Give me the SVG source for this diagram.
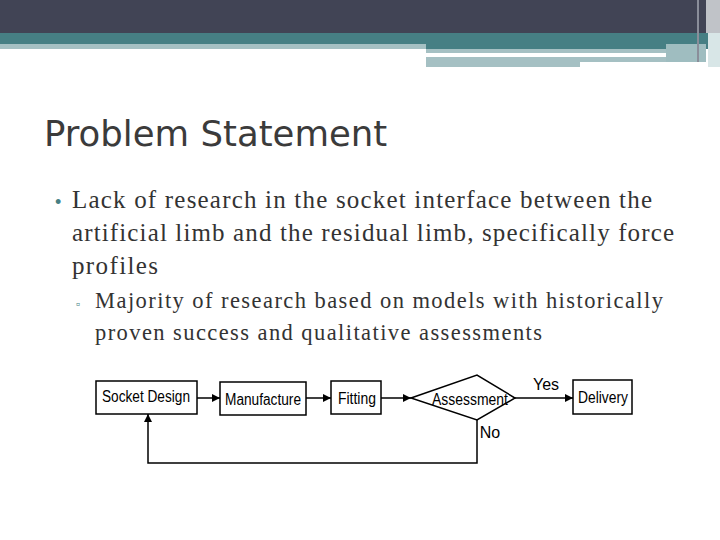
<svg xmlns="http://www.w3.org/2000/svg" width="720" height="540" viewBox="0 0 720 540">
<defs>
<style>
.b{fill:#fff;stroke:#000;stroke-width:1.5}
.t{font-family:"Liberation Sans Narrow","Liberation Sans",Arial,sans-serif;font-size:16px;fill:#000;text-anchor:middle}
.body{font-family:"Liberation Serif","Times New Roman",serif;fill:#333}
.c{fill:none;stroke:#000;stroke-width:1.5}
</style>
<marker id="a" viewBox="0 0 10 10" refX="10" refY="5" markerWidth="8" markerHeight="8" orient="auto" markerUnits="userSpaceOnUse"><path d="M0,0L10,5L0,10z" fill="#000"/></marker>
</defs>
<rect width="720" height="540" fill="#fff"/>
<rect x="0" y="0" width="720" height="33" fill="#414455"/>
<rect x="0" y="33" width="720" height="11" fill="#467f84"/>
<rect x="0" y="44" width="426" height="5" fill="#a5c0c3"/>
<rect x="426" y="44" width="294" height="5" fill="#467f84"/>
<rect x="426" y="49" width="240" height="4" fill="#a5c0c3"/>
<rect x="426" y="57" width="154" height="10" fill="#a5c0c3"/>
<rect x="580" y="57" width="126" height="5" fill="#a5c0c3"/>
<rect x="666" y="44" width="40" height="18" fill="#9fbdc0"/>
<rect x="697" y="0" width="2" height="62" fill="#8a8e9a"/>
<rect x="706" y="0" width="14" height="33" fill="#c0c3c8"/>
<rect x="708" y="33" width="12" height="34" fill="#d8e6e7"/>
<text x="44" y="146" font-family="'DejaVu Sans',sans-serif" font-size="35.5" fill="#3b3b3b">Problem Statement</text>
<text x="55" y="208" font-family="Liberation Sans,sans-serif" font-size="18" fill="#467f84">•</text>
<text class="body" font-size="25"><tspan x="72" y="208" textLength="580">Lack of research in the socket interface between the</tspan><tspan x="72" y="241" textLength="602">artificial limb and the residual limb, specifically force</tspan><tspan x="72" y="274" textLength="86">profiles</tspan></text>
<text x="76" y="308" font-family="Liberation Sans,sans-serif" font-size="12" fill="#467f84">▫</text>
<text class="body" font-size="22.5"><tspan x="95" y="308" textLength="568">Majority of research based on models with historically</tspan><tspan x="95" y="340" textLength="447">proven success and qualitative assessments</tspan></text>
<g id="connectors">
<line class="c" x1="197" y1="398" x2="220" y2="398" marker-end="url(#a)"/>
<line class="c" x1="306" y1="398" x2="331" y2="398" marker-end="url(#a)"/>
<line class="c" x1="381" y1="398" x2="411" y2="398" marker-end="url(#a)"/>
<line class="c" x1="515" y1="398" x2="573" y2="398" marker-end="url(#a)"/>
<polyline class="c" points="477,420 477,463 148,463 148,414" marker-end="url(#a)"/>
<text class="t" x="546" y="390">Yes</text>
<text class="t" x="490" y="438">No</text>
</g>
<g id="socket"><rect class="b" x="96" y="381" width="101" height="33"/><text class="t" x="146" y="402" textLength="88" lengthAdjust="spacingAndGlyphs">Socket Design</text></g>
<g id="manufacture"><rect class="b" x="220" y="382" width="86" height="33"/><text class="t" x="263" y="405" textLength="76" lengthAdjust="spacingAndGlyphs">Manufacture</text></g>
<g id="fitting"><rect class="b" x="331" y="381" width="50" height="33"/><text class="t" x="357" y="404" textLength="38" lengthAdjust="spacingAndGlyphs">Fitting</text></g>
<g id="assessment"><polygon class="b" points="411,398 477,375 515,398 477,420"/><text class="t" x="470" y="405" textLength="76" lengthAdjust="spacingAndGlyphs">Assessment</text></g>
<g id="delivery"><rect class="b" x="573" y="380" width="59" height="34"/><text class="t" x="603" y="403" textLength="50" lengthAdjust="spacingAndGlyphs">Delivery</text></g>
</svg>
